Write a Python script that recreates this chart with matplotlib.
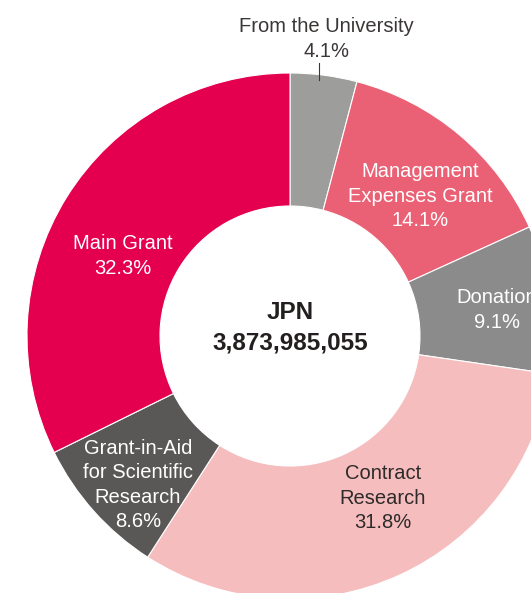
#!/usr/bin/env python3
# -*- coding: utf-8 -*-
"""
Donut chart of research funding sources (share of total, JPN).
"""

import matplotlib
matplotlib.use("Agg")
import matplotlib.pyplot as plt

plt.rcParams["font.family"] = ["Liberation Sans", "DejaVu Sans"]

# ---------------------------------------------------------------------------
# Data (clockwise from 12 o'clock)
# ---------------------------------------------------------------------------
sources = ["From the University", "Management\nExpenses Grant", "Donation",
           "Contract\nResearch", "Grant-in-Aid\nfor Scientific\nResearch",
           "Main Grant"]
shares = [4.1, 14.1, 9.1, 31.8, 8.6, 32.3]
colors = ["#9d9d9c", "#ea6175", "#8b8b8b", "#f5bdbd", "#5a5857", "#e4004f"]
text_colors = ["#3a3736", "white", "white", "#2e2b2a", "white", "white"]
total_label = "JPN\n3,873,985,055"

# canvas in pixels, y measured from the top
W, H = 531, 593
CX, CY = 290, 336
R_OUT, R_IN = 263, 130

# label anchors (x, y from top)
label_pos = [(326, 39), (420, 196), (497, 310), (383, 498), (138, 485),
             (123, 256)]


def main():
    fig = plt.figure(figsize=(W / 100, H / 100), dpi=100)
    ax = fig.add_axes([0, 0, 1, 1])

    ax.pie(shares, colors=colors, startangle=90, counterclock=False,
           radius=R_OUT, center=(CX, H - CY),
           wedgeprops=dict(width=R_OUT - R_IN, edgecolor="white",
                           linewidth=0.8))

    for name, pct, (x, y), tc in zip(sources, shares, label_pos, text_colors):
        ax.text(x, H - y, f"{name}\n{pct:.1f}%", ha="center", va="center",
                color=tc, fontsize=14.5, linespacing=1.36)

    # leader for the small top slice
    ax.plot([319, 319], [H - 63, H - 80], color="#3a3736", lw=0.8)

    ax.text(CX, H - 328, total_label, ha="center", va="center",
            color="#231f1e", fontsize=17.5, fontweight="bold", linespacing=1.4)

    ax.set_xlim(0, W)
    ax.set_ylim(0, H)
    ax.set_aspect("equal")
    ax.axis("off")
    fig.savefig("out.png", dpi=100, facecolor="white")
    plt.close(fig)


if __name__ == "__main__":
    main()
